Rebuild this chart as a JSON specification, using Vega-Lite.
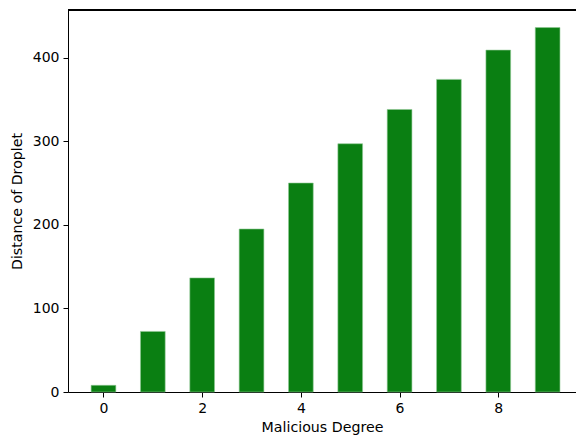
{
  "$schema": "https://vega.github.io/schema/vega-lite/v6.json",
  "width": 508,
  "height": 382,
  "autosize": {"type": "none"},
  "padding": {"left": 68, "top": 10, "right": 0, "bottom": 44},
  "background": "white",
  "config": {
    "view": {"stroke": null},
    "axis": {
      "grid": false,
      "domainColor": "black",
      "tickColor": "black",
      "labelColor": "black",
      "titleColor": "black",
      "labelFont": "DejaVu Sans",
      "titleFont": "DejaVu Sans",
      "labelFontSize": 14,
      "titleFontSize": 14.2,
      "titleFontWeight": "normal",
      "tickSize": 5,
      "labelPadding": 4
    }
  },
  "data": {
    "values": [
      {"degree": 0, "distance": 8},
      {"degree": 1, "distance": 72.5},
      {"degree": 2, "distance": 136.5},
      {"degree": 3, "distance": 195},
      {"degree": 4, "distance": 250},
      {"degree": 5, "distance": 297},
      {"degree": 6, "distance": 338},
      {"degree": 7, "distance": 374},
      {"degree": 8, "distance": 409},
      {"degree": 9, "distance": 436}
    ]
  },
  "layer": [
    {
      "mark": {"type": "bar", "size": 24.7, "color": "#0a7f12", "stroke": "#8fc894", "strokeWidth": 0.6},
      "encoding": {
        "x": {
          "field": "degree",
          "type": "quantitative",
          "scale": {"domain": [-0.719, 9.575], "nice": false, "zero": false, "padding": 0},
          "axis": {"values": [0, 2, 4, 6, 8], "title": "Malicious Degree", "titlePadding": 5}
        },
        "y": {
          "field": "distance",
          "type": "quantitative",
          "scale": {"domain": [0, 457], "nice": false, "padding": 0},
          "axis": {"values": [0, 100, 200, 300, 400], "title": "Distance of Droplet", "titlePadding": 8}
        }
      }
    },
    {
      "mark": {"type": "rule", "color": "black", "strokeWidth": 1},
      "encoding": {"y": {"datum": 457}}
    }
  ]
}
